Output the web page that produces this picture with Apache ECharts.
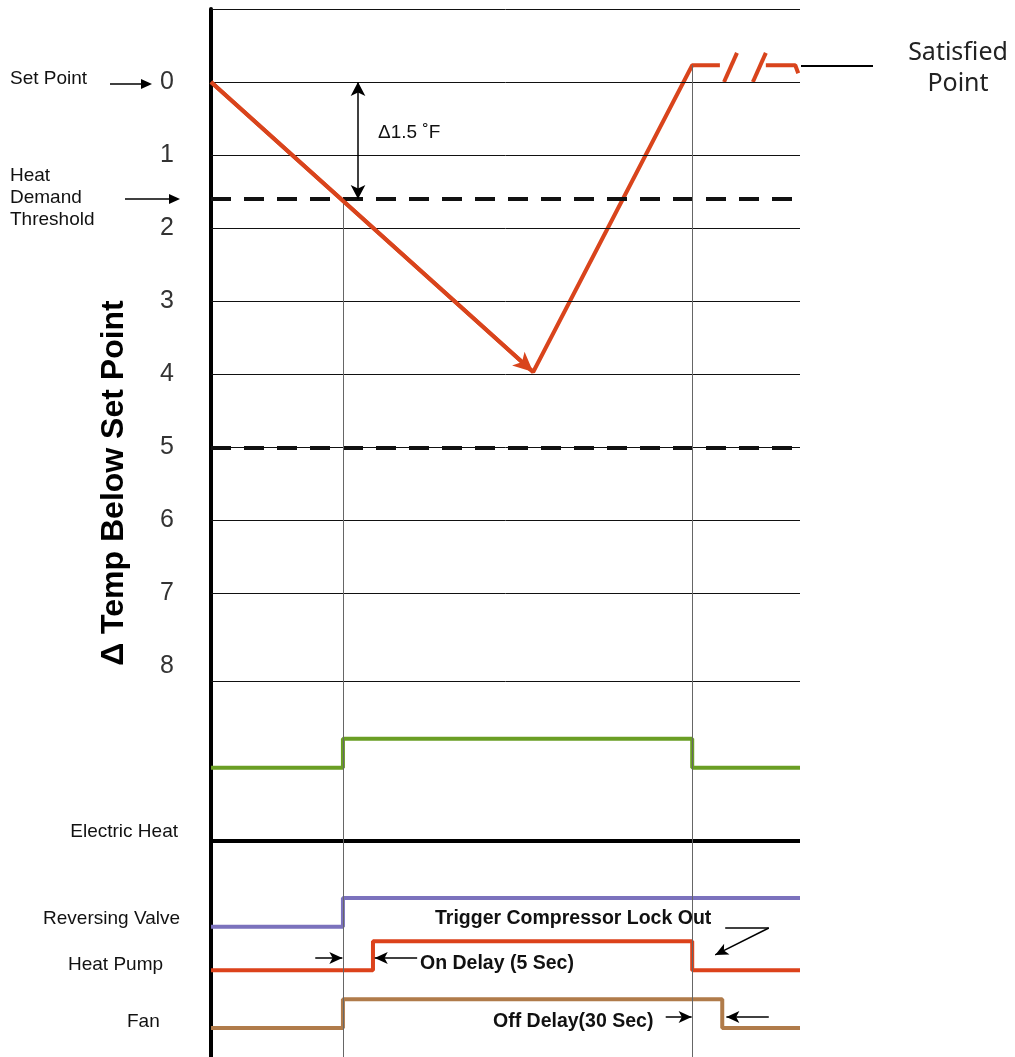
<!DOCTYPE html>
<html>
<head>
<meta charset="utf-8">
<script src="https://cdn.jsdelivr.net/npm/echarts@6/dist/echarts.min.js"></script>
<style>
  html, body { margin: 0; padding: 0; background: #fff; }
  #chart { width: 1015px; height: 1057px; }
</style>
</head>
<body>
<div id="chart"></div>
<script>
// time runs 0..100 across the plot, temperature in degrees below set point
const tempTicks = [0, 1, 2, 3, 4, 5, 6, 7, 8];
const solidLevels = [-1, 0, 1, 2, 3, 4, 5, 6, 7, 8.2];
const demandThreshold = 1.6;
const dashedLevels = [demandThreshold, 5];
const eventTimes = [22.4, 81.7];

const tempPath = [[0, 0], [54.7, 3.97], [81.7, -0.23], [86.4, -0.23]];
const tempAfterBreak = [[94.2, -0.23], [99.2, -0.23], [99.7, -0.12]];
const breakMarks = [[[87.1, 0], [89.3, -0.4]], [[92.0, 0], [94.2, -0.4]]];

// on/off states for the timing lanes
const electricHeat = [[0, 0], [22.4, 1], [81.7, 0], [100, 0]];
const reversingValve = [[0, 0], [22.4, 1], [100, 1]];
const heatPump = [[0, 0], [27.5, 1], [81.7, 0], [100, 0]];
const fan = [[0, 0], [22.4, 1], [86.8, 0], [100, 0]];

const electricLane = 10;
const reversingLane = 4.5;
const heatPumpLane = 3;
const fanLane = 1;
const dividerLevel = 7.47;

const chart = echarts.init(document.getElementById("chart"));

const FONT = "'Liberation Sans', Arial, sans-serif";

function lane(points, base) {
  return points.map(([t, s]) => [t, base + s]);
}

function hLine(v, style) {
  return { yAxis: v, lineStyle: style };
}

function seg(a, b, style, arrow) {
  return [
    { coord: a, symbol: "none", lineStyle: style },
    { coord: b, symbol: arrow ? "arrow" : "none" }
  ];
}

function arrowRight(x1, x2, y) {
  return [
    { type: "line", shape: { x1: x1, y1: y, x2: x2 - 6, y2: y }, style: { stroke: "#000", lineWidth: 1.5 } },
    { type: "polygon", shape: { points: [[x2 - 11, y - 5], [x2, y], [x2 - 11, y + 5]] }, style: { fill: "#000" } }
  ];
}

function txt(x, y, text, opts) {
  return {
    type: "text",
    x: x,
    y: y,
    style: Object.assign({
      text: text,
      fill: "#111",
      font: "19px " + FONT,
      textVerticalAlign: "middle"
    }, opts || {})
  };
}

const thin = { color: "#111", width: 1, type: "solid" };
const dashed = { color: "#111", width: 4, type: [20, 13] };
const eventStyle = { color: "#666", width: 1, type: "solid" };
const arrowStyle = { color: "#000", width: 1.5, type: "solid" };
const markerBase = { silent: true, animation: false, label: { show: false }, symbol: ["none", "none"] };
const boldFont = "bold 19.5px " + FONT;

chart.setOption({
  animation: false,
  grid: [
    { left: 211, top: 9, width: 589, height: 672 },
    { left: 211, top: 681, width: 589, height: 376 }
  ],
  xAxis: [
    { gridIndex: 0, type: "value", min: 0, max: 100, show: false },
    { gridIndex: 1, type: "value", min: 0, max: 100, show: false }
  ],
  yAxis: [
    {
      gridIndex: 0,
      type: "value",
      inverse: true,
      min: -1,
      max: 8.2,
      interval: 1,
      axisLine: { show: true, onZero: false, lineStyle: { color: "#000", width: 4 } },
      axisTick: { show: false },
      splitLine: { show: false },
      axisLabel: {
        margin: 37,
        color: "#333",
        fontSize: 25,
        fontFamily: FONT,
        showMaxLabel: false,
        formatter: (v) => (tempTicks.includes(v) ? String(v) : "")
      }
    },
    {
      gridIndex: 1,
      type: "value",
      min: 0,
      max: 13,
      axisLine: { show: true, onZero: false, lineStyle: { color: "#000", width: 4 } },
      axisTick: { show: false },
      axisLabel: { show: false },
      splitLine: { show: false }
    }
  ],
  series: [
    {
      name: "temp grid",
      type: "line",
      xAxisIndex: 0,
      yAxisIndex: 0,
      data: [],
      z: 1,
      markLine: Object.assign({}, markerBase, {
        data: solidLevels.map((v) => hLine(v, thin))
          .concat(dashedLevels.map((v) => hLine(v, dashed)))
          .concat([
            seg([eventTimes[0], demandThreshold], [eventTimes[0], 8.2], eventStyle),
            seg([eventTimes[1], -0.23], [eventTimes[1], 8.2], eventStyle)
          ])
      })
    },
    {
      name: "delta",
      type: "line",
      xAxisIndex: 0,
      yAxisIndex: 0,
      data: [],
      z: 2,
      markLine: Object.assign({}, markerBase, {
        symbol: ["arrow", "arrow"],
        symbolSize: [11, 14],
        data: [[
          { coord: [24.96, 0], lineStyle: arrowStyle },
          { coord: [24.96, demandThreshold] }
        ]]
      })
    },
    {
      name: "Room temperature",
      type: "line",
      xAxisIndex: 0,
      yAxisIndex: 0,
      data: tempPath,
      showSymbol: false,
      symbol: "none",
      z: 4,
      lineStyle: { color: "#d9441c", width: 4 },
      markLine: Object.assign({}, markerBase, {
        symbolSize: [14, 20],
        data: [[
          { coord: tempPath[0], symbol: "none", lineStyle: { color: "#d9441c", width: 4, type: "solid" } },
          { coord: tempPath[1], symbol: "arrow" }
        ]]
      })
    },
    {
      name: "Room temperature (later)",
      type: "line",
      xAxisIndex: 0,
      yAxisIndex: 0,
      data: tempAfterBreak,
      showSymbol: false,
      symbol: "none",
      z: 4,
      lineStyle: { color: "#d9441c", width: 4 }
    },
    {
      name: "break",
      type: "lines",
      coordinateSystem: "cartesian2d",
      xAxisIndex: 0,
      yAxisIndex: 0,
      z: 4,
      lineStyle: { color: "#d9441c", width: 4, opacity: 1 },
      data: breakMarks.map((c) => ({ coords: c }))
    },
    {
      name: "lane grid",
      type: "line",
      xAxisIndex: 1,
      yAxisIndex: 1,
      data: [],
      z: 1,
      markLine: Object.assign({}, markerBase, {
        data: [hLine(dividerLevel, { color: "#000", width: 4, type: "solid" })]
          .concat(eventTimes.map((t) => ({ xAxis: t, lineStyle: eventStyle })))
      })
    },
    {
      name: "Electric Heat",
      type: "line",
      xAxisIndex: 1,
      yAxisIndex: 1,
      step: "end",
      data: lane(electricHeat, electricLane),
      symbol: "none",
      z: 3,
      lineStyle: { color: "#6a9e24", width: 4 }
    },
    {
      name: "Reversing Valve",
      type: "line",
      xAxisIndex: 1,
      yAxisIndex: 1,
      step: "end",
      data: lane(reversingValve, reversingLane),
      symbol: "none",
      z: 3,
      lineStyle: { color: "#7b72bd", width: 4 }
    },
    {
      name: "Heat Pump",
      type: "line",
      xAxisIndex: 1,
      yAxisIndex: 1,
      step: "end",
      data: lane(heatPump, heatPumpLane),
      symbol: "none",
      z: 3,
      lineStyle: { color: "#dc421b", width: 4 }
    },
    {
      name: "Fan",
      type: "line",
      xAxisIndex: 1,
      yAxisIndex: 1,
      step: "end",
      data: lane(fan, fanLane),
      symbol: "none",
      z: 3,
      lineStyle: { color: "#b07b4a", width: 4 }
    },
    {
      name: "delay arrows",
      type: "line",
      xAxisIndex: 1,
      yAxisIndex: 1,
      data: [],
      z: 5,
      markLine: Object.assign({}, markerBase, {
        symbolSize: [9, 13],
        data: [
          seg([17.7, 3.42], [22.3, 3.42], arrowStyle, true),
          seg([35.0, 3.42], [27.8, 3.42], arrowStyle, true),
          seg([77.2, 1.38], [81.6, 1.38], arrowStyle, true),
          seg([94.7, 1.38], [87.5, 1.38], arrowStyle, true),
          seg([87.3, 4.46], [94.7, 4.46], arrowStyle, false),
          seg([94.7, 4.46], [85.6, 3.53], arrowStyle, true)
        ]
      })
    }
  ],
  graphic: [
    txt(10, 79, "Set Point"),
    ...arrowRight(110, 152, 84),
    txt(10, 176, "Heat"),
    txt(10, 198, "Demand"),
    txt(10, 220, "Threshold"),
    ...arrowRight(125, 180, 199),
    txt(378, 133, "\u0394" + "1.5 \u02DAF"),
    {
      type: "text",
      x: 114,
      y: 483,
      rotation: Math.PI / 2,
      style: {
        text: "\u0394 Temp Below Set Point",
        fill: "#000",
        font: "bold 32px " + FONT,
        textAlign: "center",
        textVerticalAlign: "middle"
      }
    },
    { type: "line", shape: { x1: 801, y1: 66, x2: 873, y2: 66 }, style: { stroke: "#000", lineWidth: 2 } },
    txt(958, 53, "Satisfied", { font: "25px 'Noto Sans', sans-serif", textAlign: "center", fill: "#222" }),
    txt(958, 84, "Point", { font: "25px 'Noto Sans', sans-serif", textAlign: "center", fill: "#222" }),
    txt(178, 832, "Electric Heat", { textAlign: "right" }),
    txt(180, 919, "Reversing Valve", { textAlign: "right" }),
    txt(68, 965, "Heat Pump"),
    txt(127, 1022, "Fan"),
    txt(435, 919, "Trigger Compressor Lock Out", { font: boldFont }),
    txt(420, 964, "On Delay (5 Sec)", { font: boldFont }),
    txt(493, 1022, "Off Delay(30 Sec)", { font: boldFont })
  ]
});
</script>
</body>
</html>
